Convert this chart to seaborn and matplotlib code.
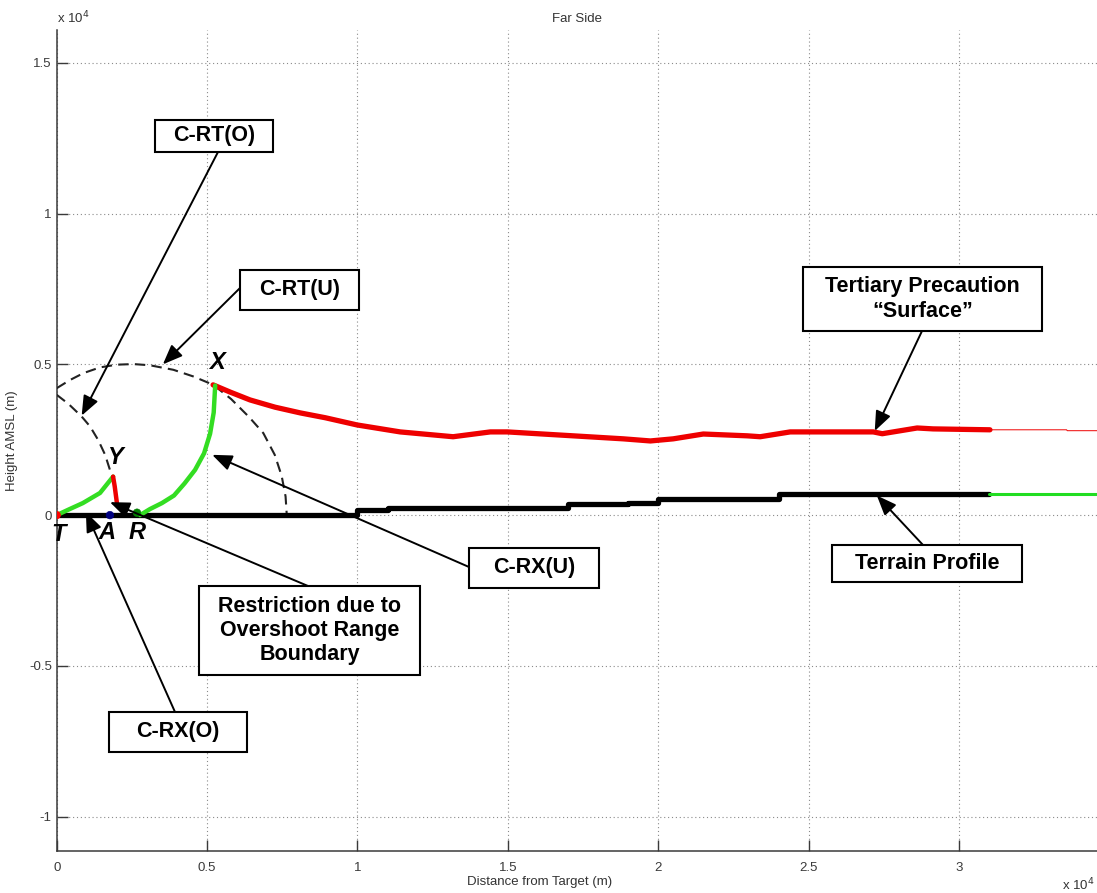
import numpy as np
import pandas as pd
import matplotlib
matplotlib.use("Agg")
import matplotlib.pyplot as plt
from matplotlib.patches import Rectangle
from matplotlib.ticker import FuncFormatter
import seaborn as sns

# -----------------------------
# data (metres)
# -----------------------------
# terrain profile, step levels (start of each step)
terrain_x = [0, 10000, 11000, 17000, 19000, 20000, 24000, 31000]
terrain_y = [0, 170, 230, 360, 415, 530, 700, 700]
terrain_ext_x = [31000, 34590]
terrain_ext_y = [700, 700]

# tertiary precaution "surface"
surface_x = [5200, 5770, 6430, 7260, 8100, 8930, 9990, 11420, 13180, 14420, 14980,
             17170, 18840, 19740, 20500, 21500, 22960, 23390, 24390, 25720, 27150,
             27450, 28610, 29140, 31030]
surface_y = [4320, 4080, 3820, 3580, 3390, 3230, 2990, 2760, 2600, 2760, 2760,
             2630, 2530, 2460, 2530, 2690, 2630, 2600, 2760, 2760, 2760,
             2700, 2890, 2860, 2830]
surface_ext_x = [31030, 33580, 33600, 34590]
surface_ext_y = [2830, 2830, 2800, 2800]

# C-RX(O): T -> Y
crx_o_x = [0, 430, 870, 1440, 1875]
crx_o_y = [0, 200, 400, 735, 1277]

# restriction (Y -> A)
restr_x = [1875, 1930, 2010]
restr_y = [1277, 945, 340]

# C-RX(U): R -> X
crx_u_x = [2770, 3100, 3500, 3900, 4250, 4600, 4900, 5100, 5220, 5270]
crx_u_y = [0, 200, 400, 650, 1050, 1500, 2050, 2700, 3400, 4300]

# C-RT(O) dashed
crt_o_x = [0, 390, 830, 1110, 1380, 1610, 1770, 1850]
crt_o_y = [3990, 3690, 3270, 2940, 2490, 2000, 1500, 1300]

# C-RT(U) dashed
crt_u_x = [0, 440, 890, 1440, 2000, 2550, 3100, 3880, 4540, 5210, 5800, 6400,
           6870, 7250, 7480, 7610, 7650]
crt_u_y = [4210, 4480, 4710, 4900, 4990, 5010, 4970, 4820, 4600, 4320, 3850, 3250,
           2720, 2000, 1300, 620, 0]

# points T, A, R
pt_names = ["T", "A", "R"]
pt_x = [0, 1770, 2670]
pt_y = [0, 0, 80]
pt_colors = ["red", "navy", "green"]

W, H = 1097, 893

sns.set_style("ticks")
plt.rcParams["font.family"] = ["Liberation Sans", "DejaVu Sans"]
plt.rcParams["text.color"] = "black"

fig = plt.figure(figsize=(W / 100, H / 100), dpi=100)
ax = fig.add_axes([56.7 / W, (H - 851) / H, (W - 56.7) / W, (851 - 30) / H])

grid_kw = dict(color="#8a8a8a", lw=0.8, linestyle=(0, (1, 2.5)))
ax.grid(True, **grid_kw)
ax.set_axisbelow(True)


def line(x, y, **kw):
    sns.lineplot(x=x, y=y, sort=False, estimator=None, ax=ax, legend=False, **kw)


line(terrain_x, terrain_y, color="black", lw=3.8, drawstyle="steps-post", zorder=4)
line(terrain_ext_x, terrain_ext_y, color="#22dd22", lw=2.2, zorder=4)
line(surface_x, surface_y, color="#ee0000", lw=3.8, zorder=4)
line(surface_ext_x, surface_ext_y, color="#ee0000", lw=0.7, zorder=4)
line(crt_o_x, crt_o_y, color="#222222", lw=1.5, linestyle=(0, (5, 3)), zorder=3)
line(crt_u_x, crt_u_y, color="#222222", lw=1.5, linestyle=(0, (5, 3)), zorder=3)
line(crx_o_x, crx_o_y, color="#33dd22", lw=3.2, zorder=4)
line(crx_u_x, crx_u_y, color="#33dd22", lw=3.2, zorder=4)
line(restr_x, restr_y, color="#ee0000", lw=3.2, zorder=4)

pts = pd.DataFrame({"x": pt_x, "y": pt_y, "name": pt_names})
sns.scatterplot(data=pts, x="x", y="y", hue="name", palette=dict(zip(pt_names, pt_colors)),
                s=30, edgecolor=None, legend=False, ax=ax, zorder=5)

ax.set_xlim(0, 34590)
ax.set_ylim(-11140, 16090)
ax.set_xticks(np.arange(0, 30001, 5000))
ax.set_yticks(np.arange(-10000, 15001, 5000))
fmt = FuncFormatter(lambda v, p: f"{v / 1e4:g}")
ax.xaxis.set_major_formatter(fmt)
ax.yaxis.set_major_formatter(fmt)
ax.tick_params(direction="in", length=8, width=1, colors="#3a3a3a", labelsize=9.5,
               labelcolor="#3a3a3a")
ax.tick_params(axis="x", pad=8)
sns.despine(ax=ax)
for s in ["left", "bottom"]:
    ax.spines[s].set_color("#3a3a3a")
    ax.spines[s].set_linewidth(1.1)

ax.set_title("Far Side", fontsize=9.5, color="#333333", pad=6)
ax.set_xlabel("Distance from Target (m)", fontsize=9.5, color="#333333")
ax.set_ylabel("Height AMSL (m)", fontsize=9.5, color="#333333")
ax.xaxis.set_label_coords(0.464, -0.03)
ax.yaxis.set_label_coords(-0.037, 0.5)

fig.text(57 / W, 1 - 18 / H, "x 10$^4$", fontsize=9.5, color="#333333", va="center")
fig.text(1095 / W, 1 - 885 / H, "x 10$^4$", fontsize=9.5, color="#333333",
         va="center", ha="right")

# point letters
letter_kw = dict(fontsize=17, fontweight="bold", fontstyle="italic", ha="center",
                 va="center", color="black", zorder=6)
ax.text(60, -640, "T", **letter_kw)
ax.text(1670, -560, "A", **letter_kw)
ax.text(2670, -560, "R", **letter_kw)
ax.text(1940, 1900, "Y", **letter_kw)
ax.text(5330, 5050, "X", **letter_kw)

# annotation boxes: (text, box in pixels x0, y0, x1, y1, arrow tail px, arrow tip data)
notes = [
    ("C-RT(O)", (155, 120, 273, 152), (218, 152), (830, 3300)),
    ("C-RT(U)", (240, 270, 359, 310), (240, 288), (3530, 5000)),
    ("C-RX(U)", (469, 548, 599, 588), (469, 567), (5170, 2000)),
    ("Terrain Profile", (832, 545, 1022, 582), (923, 545), (27270, 650)),
    ("Tertiary Precaution\n\u201cSurface\u201d", (803, 267, 1042, 331), (922, 331), (27200, 2790)),
    ("Restriction due to\nOvershoot Range\nBoundary", (199, 586, 420, 675), (308, 586), (1770, 430)),
    ("C-RX(O)", (109, 712, 247, 752), (175, 712), (970, 100)),
]

for txt, (x0, y0, x1, y1), tail, tip in notes:
    ax.annotate("", xy=tip, xycoords="data", xytext=(tail[0], H - tail[1]),
                textcoords="figure pixels",
                arrowprops=dict(arrowstyle="-|>,head_length=0.8,head_width=0.32",
                                mutation_scale=15, lw=1.4, color="black",
                                shrinkA=0, shrinkB=0), zorder=7)
    fig.patches.append(Rectangle((x0 / W, 1 - y1 / H), (x1 - x0) / W, (y1 - y0) / H,
                                 transform=fig.transFigure, facecolor="white",
                                 edgecolor="black", lw=1.5, zorder=8))
    fig.text((x0 + x1) / 2 / W, 1 - (y0 + y1) / 2 / H, txt, ha="center", va="center",
             fontsize=15.5, fontweight="bold", color="black", linespacing=1.2, zorder=9)

fig.savefig("out.png", dpi=100)
